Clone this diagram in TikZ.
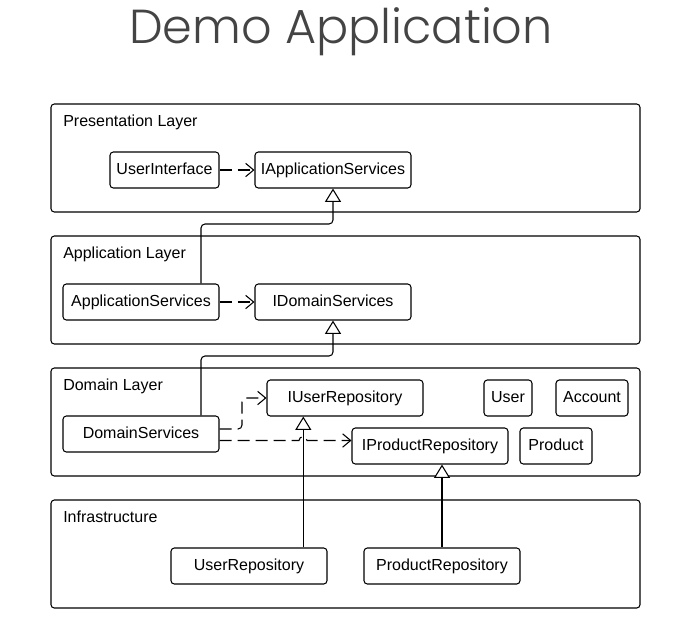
\documentclass[tikz,border=0pt]{standalone}
\usepackage{fontspec}
\setmainfont{Liberation Sans}
\newfontfamily\titlefont{Poppins Light}
\usetikzlibrary{arrows.meta}
\definecolor{titlegray}{HTML}{444444}
\begin{document}
\begin{tikzpicture}[x=0.75pt,y=-0.75pt,
  layer/.style={draw, line width=0.8pt, rounded corners=2.5pt},
  lbl/.style={anchor=base west, inner sep=0pt, font=\fontsize{12}{14}\selectfont},
  cls/.style={draw, line width=0.8pt, rounded corners=2.5pt, minimum height=27pt, minimum width=117pt, inner sep=0pt, text height=8.7pt, text depth=2.5pt, font=\fontsize{12}{14}\selectfont},
  dep/.style={line width=0.8pt, dash pattern=on 9pt off 4.5pt, -{Straight Barb[length=6pt,width=10pt]}},
  inh/.style={line width=0.8pt, -{Triangle[open,fill=white,length=10pt,width=12pt]}}]
\useasboundingbox (0,0) rectangle (698,637);
\node[anchor=base, inner sep=0pt, text=titlegray, font=\titlefont\fontsize{35.8}{40}\selectfont] (title) at (341,43) {Demo Application};
% layers
\draw[layer] (51,104) rectangle (640,212);
\draw[layer] (51,236) rectangle (640,344);
\draw[layer] (51,368) rectangle (640,476);
\draw[layer] (51,500) rectangle (640,608);
\node[lbl] (lp) at (63,126) {Presentation Layer};
\node[lbl] (la) at (63,258) {Application Layer};
\node[lbl] (ld) at (63,390) {Domain Layer};
\node[lbl] (li) at (63,522) {Infrastructure};
% classes
\node[cls, minimum width=81.75pt] (ui) at (164.5,170) {UserInterface};
\node[cls] (ias) at (333,170) {IApplicationServices};
\node[cls] (as) at (141,302) {ApplicationServices};
\node[cls] (ids) at (333,302) {IDomainServices};
\node[cls] (ds) at (141,434) {DomainServices};
\node[cls] (iur) at (345,398) {IUserRepository};
\node[cls, minimum width=36pt] (user) at (508,398) {User};
\node[cls, minimum width=54pt] (acct) at (592,398) {Account};
\node[cls] (ipr) at (430,446) {IProductRepository};
\node[cls, minimum width=54pt] (prod) at (556,446) {Product};
\node[cls] (ur) at (249,566) {UserRepository};
\node[cls] (pr) at (442,566) {ProductRepository};
% connectors
\draw[dep] (ui) -- (ias);
\draw[dep] (as) -- (ids);
\coordinate (j1) at (201,224);
\draw[inh, rounded corners=3pt] (as.north -| j1) -- (j1) -- (j1 -| ias.south) -- (ias.south);
\coordinate (j2) at (201,356);
\draw[inh, rounded corners=3pt] (ds.north -| j2) -- (j2) -- (j2 -| ids.south) -- (ids.south);
\coordinate (d1) at (242,429);
\draw[dep, rounded corners=3pt] (ds.east |- d1) -- (d1) -- (d1 |- iur.west) -- (iur.west);
\coordinate (d2) at (0,440.5);
\coordinate (v1) at (303.3,0);
\draw[inh] (ur.north -| v1) -- (iur.south -| v1);
\draw[inh] (pr.north) -- (ipr.south -| pr.north);
\draw[dep] (ds.east |- d2) -- (299,440.5) .. controls (299,435.5) and (307,435.5) .. (307,440.5) -- (ipr.west |- d2);
\end{tikzpicture}
\end{document}
